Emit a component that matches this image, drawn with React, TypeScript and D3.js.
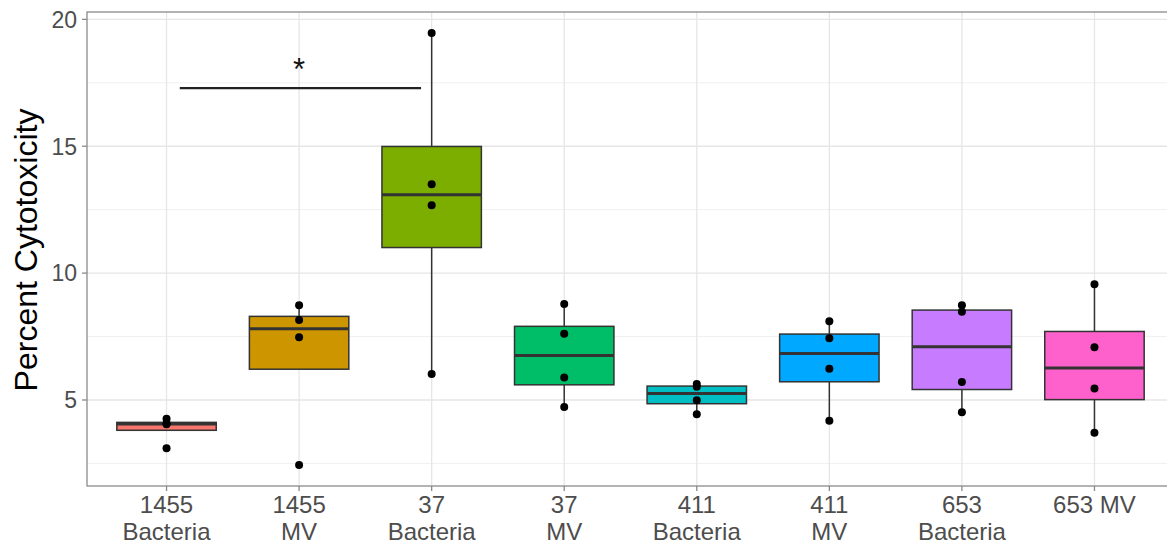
import React from "react";
import * as d3 from "d3";

// Groups along the x axis (two-line tick labels)
const categories = [
  "1455 Bacteria",
  "1455 MV",
  "37 Bacteria",
  "37 MV",
  "411 Bacteria",
  "411 MV",
  "653 Bacteria",
  "653 MV",
];
const tickLines = [
  ["1455", "Bacteria"],
  ["1455", "MV"],
  ["37", "Bacteria"],
  ["37", "MV"],
  ["411", "Bacteria"],
  ["411", "MV"],
  ["653", "Bacteria"],
  ["653 MV"],
];

// Replicate measurements (percent cytotoxicity) per group
const v1455Bacteria = [4.26, 4.07, 4.04, 3.1];
const v1455MV = [8.73, 8.15, 7.47, 2.44];
const v37Bacteria = [19.46, 13.5, 12.67, 6.02];
const v37MV = [8.78, 7.61, 5.89, 4.72];
const v411Bacteria = [5.63, 5.52, 4.99, 4.44];
const v411MV = [8.1, 7.43, 6.23, 4.18];
const v653Bacteria = [8.73, 8.48, 5.71, 4.52];
const v653MV = [9.56, 7.08, 5.45, 3.71];
const groupValues = [
  v1455Bacteria,
  v1455MV,
  v37Bacteria,
  v37MV,
  v411Bacteria,
  v411MV,
  v653Bacteria,
  v653MV,
];

const fills = [
  "#F8766D",
  "#CD9600",
  "#7CAE00",
  "#00BE67",
  "#00BFC4",
  "#00A9FF",
  "#C77CFF",
  "#FF61CC",
];

const yTicks = [5, 10, 15, 20];
const yMinor = [2.5, 7.5, 12.5, 17.5];

// Significance bracket between 1455 Bacteria and 37 Bacteria
const sigLevel = 17.29;
const sigLabel = "*";

const W = 1167;
const H = 546;
const left = 87;
const right = 1174;
const top = 12;
const bottom = 486;
const font = "'Liberation Sans', Arial, Helvetica, sans-serif";

function stats(vals: number[]) {
  const s = [...vals].sort(d3.ascending);
  const q1 = d3.quantile(s, 0.25)!;
  const med = d3.quantile(s, 0.5)!;
  const q3 = d3.quantile(s, 0.75)!;
  const iqr = q3 - q1;
  const lo = d3.min(s.filter((v) => v >= q1 - 1.5 * iqr))!;
  const hi = d3.max(s.filter((v) => v <= q3 + 1.5 * iqr))!;
  return { q1, med, q3, lo, hi };
}

export default function App() {
  const step = (right - left) / (categories.length + 0.2);
  const x = d3
    .scalePoint<string>()
    .domain(categories)
    .range([left + 0.6 * step, right - 0.6 * step]);
  const y = d3.scaleLinear().domain([1.61, 20.29]).range([bottom, top]);
  const boxW = 0.75 * step;
  const xi = (i: number) => x(categories[0])! + i * step;

  return (
    <svg
      width={W}
      height={H}
      style={{ position: "absolute", left: 0, top: 0, background: "#fff" }}
      fontFamily={font}
    >
      <defs>
        <clipPath id="panel">
          <rect x={left} y={top} width={right - left} height={bottom - top} />
        </clipPath>
      </defs>
      <g clipPath="url(#panel)">
        {yMinor.map((t) => (
          <line key={"m" + t} x1={left} x2={right} y1={y(t)} y2={y(t)} stroke="#F0F0F0" strokeWidth={1} />
        ))}
        {yTicks.map((t) => (
          <line key={"g" + t} x1={left} x2={right} y1={y(t)} y2={y(t)} stroke="#E6E6E6" strokeWidth={1.3} />
        ))}
        {categories.map((c) => (
          <line key={"v" + c} x1={x(c)} x2={x(c)} y1={top} y2={bottom} stroke="#E6E6E6" strokeWidth={1.3} />
        ))}

        {groupValues.map((vals, i) => {
          const st = stats(vals);
          const cx = x(categories[i])!;
          return (
            <g key={categories[i]}>
              <line x1={cx} x2={cx} y1={y(st.hi)} y2={y(st.q3)} stroke="#333" strokeWidth={1.5} />
              <line x1={cx} x2={cx} y1={y(st.q1)} y2={y(st.lo)} stroke="#333" strokeWidth={1.5} />
              <rect
                x={cx - boxW / 2}
                y={y(st.q3)}
                width={boxW}
                height={y(st.q1) - y(st.q3)}
                fill={fills[i]}
                stroke="#333"
                strokeWidth={1.5}
              />
              <line x1={cx - boxW / 2} x2={cx + boxW / 2} y1={y(st.med)} y2={y(st.med)} stroke="#333" strokeWidth={3} />
              {vals.map((v, j) => (
                <circle key={j} cx={cx} cy={y(v)} r={4} fill="#000" />
              ))}
            </g>
          );
        })}

        <line x1={xi(0.1)} x2={xi(1.92)} y1={y(sigLevel)} y2={y(sigLevel)} stroke="#222" strokeWidth={2.2} />
        <text x={xi(1)} y={y(sigLevel) - 8} textAnchor="middle" fontSize={31} fill="#111">
          {sigLabel}
        </text>
      </g>

      <rect x={left} y={top} width={right - left} height={bottom - top} fill="none" stroke="#8a8a8a" strokeWidth={1.3} />

      {yTicks.map((t) => (
        <g key={"t" + t}>
          <line x1={left - 5} x2={left} y1={y(t)} y2={y(t)} stroke="#8a8a8a" strokeWidth={1.3} />
          <text x={left - 10} y={y(t)} dy="0.36em" textAnchor="end" fontSize={23} fill="#4D4D4D">
            {t}
          </text>
        </g>
      ))}

      {categories.map((c, i) => (
        <g key={"xt" + c}>
          <line x1={x(c)} x2={x(c)} y1={bottom} y2={bottom + 5} stroke="#8a8a8a" strokeWidth={1.3} />
          {tickLines[i].map((ln, k) => (
            <text key={k} x={x(c)} y={513 + k * 27} textAnchor="middle" fontSize={24} fill="#4D4D4D">
              {ln}
            </text>
          ))}
        </g>
      ))}

      <text
        transform={`translate(${37},${250}) rotate(-90)`}
        textAnchor="middle"
        fontSize={32}
        fill="#000"
      >
        Percent Cytotoxicity
      </text>
    </svg>
  );
}
